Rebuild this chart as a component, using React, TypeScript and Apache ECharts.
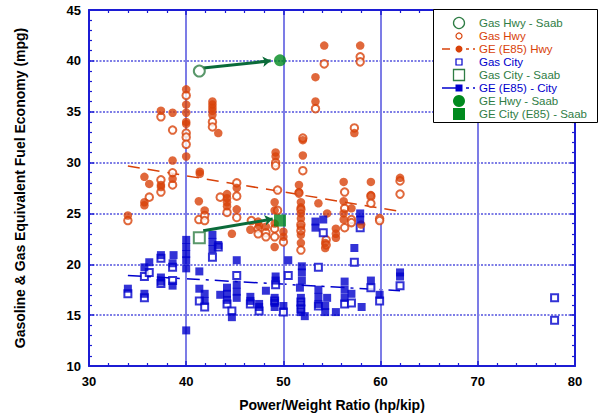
import React, { useEffect, useRef } from 'react';
import * as echarts from 'echarts';

// ---- data (x = power/weight hp/kip, y = mpg) ----
const GAS_HWY: number[][] = [
  [34.0, 24.3], [36.2, 26.6], [37.4, 34.5], [37.4, 28.3], [37.4, 27.1],
  [38.6, 33.2], [38.6, 29.0], [38.6, 27.8], [40.0, 36.6], [40.0, 32.9],
  [40.0, 32.5], [40.0, 31.8], [41.3, 24.4], [41.9, 24.8], [41.9, 24.3],
  [42.7, 34.0], [42.7, 33.5], [43.5, 26.6], [44.2, 25.1], [45.2, 28.0],
  [45.2, 26.7], [45.2, 24.6], [46.7, 24.3], [47.4, 23.5], [47.4, 23.0],
  [48.2, 23.1], [48.2, 22.7], [49.1, 23.5], [49.1, 22.7], [49.4, 27.3],
  [49.4, 25.3], [49.2, 30.0], [49.2, 29.7], [50.0, 22.2], [51.6, 27.0],
  [51.8, 25.4], [51.8, 23.9], [51.8, 23.3], [51.8, 21.4], [52.0, 32.4],
  [52.0, 29.2], [53.3, 35.3], [54.2, 39.7], [54.4, 22.4], [54.4, 21.9],
  [56.3, 27.1], [56.3, 25.5], [56.3, 23.6], [57.0, 24.4], [57.0, 24.1],
  [57.3, 33.4], [57.9, 40.4], [57.9, 39.9], [59.0, 26.7], [59.0, 26.0],
  [59.9, 24.5], [59.9, 24.3], [62.0, 28.2], [62.0, 26.9],
];

const GE_HWY: number[][] = [
  [34.0, 24.8], [35.7, 28.6], [35.7, 26.1], [35.7, 25.8], [36.2, 27.9],
  [37.4, 35.1], [37.4, 27.8], [37.4, 27.6], [38.6, 34.9], [38.6, 30.2],
  [38.6, 28.4], [40.0, 37.2], [40.0, 35.7], [40.0, 34.9], [40.0, 34.0],
  [40.0, 33.8], [40.0, 30.6], [41.4, 29.1], [41.4, 28.9], [41.3, 26.2],
  [41.9, 25.3], [42.7, 36.0], [42.7, 35.7], [42.7, 35.4], [42.7, 35.1],
  [42.7, 34.7], [43.3, 32.9], [44.2, 26.9], [44.2, 26.5], [44.2, 26.1],
  [44.2, 25.7], [44.7, 23.0], [45.2, 27.5], [45.2, 25.4], [46.6, 23.4],
  [47.4, 24.2], [47.5, 23.8], [48.2, 23.7], [49.1, 26.1], [49.1, 25.3],
  [49.1, 24.0], [49.1, 21.7], [49.2, 31.0], [49.2, 30.6], [50.0, 23.2],
  [50.0, 22.7], [51.6, 27.8], [51.6, 27.1], [51.8, 26.1], [51.8, 25.6],
  [51.8, 25.0], [51.8, 24.5], [51.8, 23.7], [51.8, 22.9], [51.8, 22.1],
  [52.0, 32.2], [52.0, 30.7], [53.3, 38.4], [53.3, 36.0], [53.6, 26.0],
  [54.2, 41.5], [54.3, 22.1], [54.3, 21.6], [54.5, 25.0], [55.4, 23.5],
  [55.4, 23.0], [55.4, 22.6], [56.2, 28.1], [56.2, 26.2], [56.2, 25.0],
  [56.2, 24.4], [57.0, 25.5], [57.3, 32.9], [57.9, 41.5], [58.0, 23.9],
  [59.0, 28.1], [59.0, 26.8], [62.0, 28.5],
];

const GAS_CITY: number[][] = [
  [34.0, 17.1], [35.7, 18.8], [35.7, 16.7], [36.2, 19.2], [37.4, 20.6],
  [37.4, 18.1], [38.6, 19.7], [38.6, 18.4], [41.35, 16.4], [41.9, 15.8],
  [42.7, 20.7], [43.3, 21.7], [44.2, 16.1], [44.7, 15.4], [45.2, 18.9],
  [46.6, 16.1], [47.5, 15.4], [49.2, 18.0], [49.1, 16.4], [50.0, 15.3],
  [50.5, 18.9], [51.8, 16.3], [51.8, 15.6], [53.6, 19.7], [53.6, 15.9],
  [54.1, 23.1], [56.3, 16.1], [57.0, 16.2], [57.3, 20.2], [57.9, 23.6],
  [59.0, 17.7], [59.9, 16.4], [62.0, 17.9], [77.9, 16.7], [77.9, 14.5],
];

const GE_CITY: number[][] = [
  [34.0, 17.6], [35.7, 19.7], [35.7, 17.1], [36.2, 20.2], [37.4, 20.9],
  [37.4, 18.7], [37.4, 18.3], [38.7, 20.9], [38.6, 20.1], [38.6, 17.9],
  [40.0, 22.4], [40.0, 21.7], [40.0, 21.0], [40.0, 20.4], [40.0, 19.6],
  [40.0, 13.5], [41.35, 19.3], [41.35, 17.6], [41.9, 17.1], [41.9, 16.4],
  [42.7, 22.9], [42.7, 22.2], [42.7, 21.5], [43.3, 21.9], [43.5, 17.0],
  [44.2, 17.7], [44.2, 17.1], [44.2, 16.5], [44.7, 14.8], [45.2, 20.4],
  [45.2, 18.0], [45.2, 17.3], [45.2, 16.7], [46.6, 16.8], [46.6, 16.4],
  [47.5, 16.1], [47.5, 15.8], [48.2, 17.4], [49.2, 18.8], [49.2, 18.4],
  [49.1, 16.7], [49.1, 16.2], [49.1, 15.8], [50.0, 15.9], [50.5, 20.4],
  [51.9, 19.8], [51.9, 19.2], [51.9, 18.4], [51.7, 17.7], [51.8, 16.7],
  [51.8, 16.0], [51.8, 15.3], [52.2, 14.9], [53.3, 24.2], [53.3, 23.6],
  [53.6, 17.5], [53.6, 16.8], [53.6, 16.1], [54.1, 24.4], [54.3, 15.9],
  [54.3, 15.3], [54.5, 16.7], [55.4, 15.3], [56.3, 18.3], [56.3, 17.5],
  [56.3, 16.7], [57.0, 17.1], [57.3, 21.6], [57.9, 25.0], [57.9, 24.4],
  [58.05, 15.8], [59.0, 18.4], [59.9, 17.0], [62.0, 19.2], [62.0, 18.8],
];

const GAS_HWY_SAAB: number[][] = [[41.35, 39.0]];
const GE_HWY_SAAB: number[][] = [[49.65, 40.05]];
const GAS_CITY_SAAB: number[][] = [[41.35, 22.6]];
const GE_CITY_SAAB: number[][] = [[49.65, 24.3]];

const HWY_FIT: number[][] = [[34, 29.66], [62, 25.2]];
const CITY_FIT: number[][] = [[34, 18.9], [62, 17.4]];

const ARROWS: number[][][] = [
  [[41.75, 39.3], [48.7, 40.0]],
  [[41.75, 23.3], [48.9, 24.45]],
];

const X_RANGE = [30, 80, 10];
const Y_RANGE = [10, 45, 5];

const X_NAME = 'Power/Weight Ratio (hp/kip)';
const Y_NAME = 'Gasoline & Gas Equivalent Fuel Economy (mpg)';

const LEGEND_ITEMS = [
  'Gas Hwy - Saab',
  'Gas Hwy',
  'GE (E85) Hwy',
  'Gas City',
  'Gas City - Saab',
  'GE (E85) - City',
  'GE Hwy - Saab',
  'GE City (E85) - Saab',
];

// ---- styles ----
const ORANGE = '#d8420a';
const BLUE = '#0000cc';
const GREEN = '#008a1e';
const DKGREEN = '#0b6b3a';
const OPEN_GREEN = '#2f7d45';
const AXIS = '#1c1cd4';
const GRID = '#7c7ce6';
const FONT = '"Liberation Sans", Arial, Helvetica, sans-serif';

function axisCommon(min: number, max: number, interval: number) {
  return {
    type: 'value',
    min,
    max,
    interval,
    axisLine: { show: true, onZero: false, lineStyle: { color: AXIS, width: 2 } },
    axisTick: { show: true, inside: true, length: 5, lineStyle: { color: AXIS, width: 1.5 } },
    minorTick: { show: true, splitNumber: 5, length: 3, lineStyle: { color: AXIS, width: 1.2 } },
  };
}

export default function App() {
  const ref = useRef<HTMLDivElement>(null);

  useEffect(() => {
    const chart = echarts.init(ref.current!, null, { renderer: 'svg' });

    const legendRows = [23, 36, 49, 62, 75, 88, 101, 114];
    const legendColors = [OPEN_GREEN, ORANGE, ORANGE, BLUE, OPEN_GREEN, BLUE, OPEN_GREEN, OPEN_GREEN];
    const sx = 459;
    const graphic: any[] = [
      {
        type: 'rect',
        z: 100,
        shape: { x: 433.5, y: 9.5, width: 164, height: 113 },
        style: { fill: '#fff', stroke: '#000', lineWidth: 1 },
      },
    ];
    LEGEND_ITEMS.forEach((t, i) => {
      graphic.push({
        type: 'text',
        z: 101,
        x: 479,
        y: legendRows[i],
        style: {
          text: t,
          fill: legendColors[i],
          fontSize: 11.5,
          fontFamily: FONT,
          verticalAlign: 'middle',
          align: 'left',
        },
      });
    });
    const r = legendRows;
    graphic.push(
      { type: 'circle', z: 101, shape: { cx: sx, cy: r[0], r: 5.5 }, style: { fill: '#fff', stroke: OPEN_GREEN, lineWidth: 1.3 } },
      { type: 'circle', z: 101, shape: { cx: sx, cy: r[1], r: 3 }, style: { fill: '#fff', stroke: ORANGE, lineWidth: 1.2 } },
      { type: 'line', z: 101, shape: { x1: 442, y1: r[2], x2: 450, y2: r[2] }, style: { stroke: ORANGE, lineWidth: 1.5 } },
      { type: 'line', z: 101, shape: { x1: 466, y1: r[2], x2: 469, y2: r[2] }, style: { stroke: ORANGE, lineWidth: 1.5 } },
      { type: 'line', z: 101, shape: { x1: 473, y1: r[2], x2: 475, y2: r[2] }, style: { stroke: ORANGE, lineWidth: 1.5 } },
      { type: 'circle', z: 102, shape: { cx: sx, cy: r[2], r: 3.5 }, style: { fill: ORANGE } },
      { type: 'rect', z: 101, shape: { x: sx - 3, y: r[3] - 3, width: 6, height: 6 }, style: { fill: '#fff', stroke: BLUE, lineWidth: 1.2 } },
      { type: 'rect', z: 101, shape: { x: sx - 5.5, y: r[4] - 5.5, width: 11, height: 11 }, style: { fill: '#fff', stroke: OPEN_GREEN, lineWidth: 1.3 } },
      { type: 'line', z: 101, shape: { x1: 442, y1: r[5], x2: 457, y2: r[5] }, style: { stroke: BLUE, lineWidth: 1.5 } },
      { type: 'line', z: 101, shape: { x1: 466, y1: r[5], x2: 469, y2: r[5] }, style: { stroke: BLUE, lineWidth: 1.5 } },
      { type: 'line', z: 101, shape: { x1: 473, y1: r[5], x2: 475, y2: r[5] }, style: { stroke: BLUE, lineWidth: 1.5 } },
      { type: 'rect', z: 102, shape: { x: sx - 3.5, y: r[5] - 3.5, width: 7, height: 7 }, style: { fill: BLUE } },
      { type: 'circle', z: 101, shape: { cx: sx, cy: r[6], r: 6 }, style: { fill: GREEN } },
      { type: 'rect', z: 101, shape: { x: sx - 6, y: r[7] - 6, width: 12, height: 12 }, style: { fill: GREEN } },
    );

    const option: any = {
      animation: false,
      backgroundColor: '#fff',
      grid: { left: 89, right: 29, top: 10, bottom: 47, containLabel: false },
      xAxis: [
        {
          ...axisCommon(X_RANGE[0], X_RANGE[1], X_RANGE[2]),
          position: 'bottom',
          axisLabel: { color: '#000', fontWeight: 'bold', fontSize: 13, fontFamily: FONT, margin: 9 },
          splitLine: { show: true, lineStyle: { color: GRID, width: 2, type: 'solid' } },
          name: X_NAME,
          nameLocation: 'middle',
          nameGap: 32,
          nameTextStyle: { color: '#000', fontWeight: 'bold', fontSize: 14, fontFamily: FONT },
          z: 3,
        },
        {
          ...axisCommon(X_RANGE[0], X_RANGE[1], X_RANGE[2]),
          position: 'top',
          axisLabel: { show: false },
          splitLine: { show: false },
          z: 3,
        },
      ],
      yAxis: [
        {
          ...axisCommon(Y_RANGE[0], Y_RANGE[1], Y_RANGE[2]),
          position: 'left',
          axisLabel: { color: '#000', fontWeight: 'bold', fontSize: 13, fontFamily: FONT, margin: 8 },
          splitLine: { show: true, lineStyle: { color: GRID, width: 2, type: [2, 1.5] } },
          name: Y_NAME,
          nameLocation: 'middle',
          nameGap: 62,
          nameTextStyle: { color: '#000', fontWeight: 'bold', fontSize: 14, fontFamily: FONT },
          z: 3,
        },
        {
          ...axisCommon(Y_RANGE[0], Y_RANGE[1], Y_RANGE[2]),
          position: 'right',
          axisLabel: { show: false },
          splitLine: { show: false },
          z: 3,
        },
      ],
      graphic,
      series: [
        {
          name: 'hwy fit',
          type: 'line',
          data: HWY_FIT,
          showSymbol: false,
          silent: true,
          z: 2,
          lineStyle: { color: ORANGE, width: 1.5, type: [12, 8] },
        },
        {
          name: 'city fit',
          type: 'line',
          data: CITY_FIT,
          showSymbol: false,
          silent: true,
          z: 2,
          lineStyle: { color: BLUE, width: 1.5, type: [14, 6, 3, 6] },
        },
        {
          name: 'Gas Hwy',
          type: 'scatter',
          data: GAS_HWY,
          symbol: 'emptyCircle',
          symbolSize: 7.5,
          z: 3,
          itemStyle: { color: ORANGE, borderColor: ORANGE, borderWidth: 1.4 },
        },
        {
          name: 'GE (E85) Hwy',
          type: 'scatter',
          data: GE_HWY,
          symbol: 'circle',
          symbolSize: 8.5,
          z: 4,
          itemStyle: { color: ORANGE },
        },
        {
          name: 'Gas City',
          type: 'scatter',
          data: GAS_CITY,
          symbol: 'emptyRect',
          symbolSize: 7,
          z: 3,
          itemStyle: { color: BLUE, borderColor: BLUE, borderWidth: 1.4 },
        },
        {
          name: 'GE (E85) - City',
          type: 'scatter',
          data: GE_CITY,
          symbol: 'rect',
          symbolSize: 8,
          z: 4,
          itemStyle: { color: BLUE },
        },
        {
          name: 'arrows',
          type: 'lines',
          coordinateSystem: 'cartesian2d',
          z: 5,
          silent: true,
          symbol: ['none', 'arrow'],
          symbolSize: 8,
          lineStyle: { color: DKGREEN, width: 3, opacity: 1 },
          data: ARROWS.map((c) => ({ coords: c })),
        },
        {
          name: 'Gas Hwy - Saab',
          type: 'scatter',
          data: GAS_HWY_SAAB,
          symbol: 'emptyCircle',
          symbolSize: 11,
          z: 6,
          itemStyle: { color: OPEN_GREEN, borderColor: OPEN_GREEN, borderWidth: 1.3 },
        },
        {
          name: 'GE Hwy - Saab',
          type: 'scatter',
          data: GE_HWY_SAAB,
          symbol: 'circle',
          symbolSize: 12,
          z: 6,
          itemStyle: { color: GREEN },
        },
        {
          name: 'Gas City - Saab',
          type: 'scatter',
          data: GAS_CITY_SAAB,
          symbol: 'emptyRect',
          symbolSize: 11,
          z: 6,
          itemStyle: { color: OPEN_GREEN, borderColor: OPEN_GREEN, borderWidth: 1.3 },
        },
        {
          name: 'GE City (E85) - Saab',
          type: 'scatter',
          data: GE_CITY_SAAB,
          symbol: 'rect',
          symbolSize: 12,
          z: 6,
          itemStyle: { color: GREEN },
        },
      ],
    };

    chart.setOption(option);
    return () => chart.dispose();
  }, []);

  return (
    <div
      ref={ref}
      style={{ position: 'absolute', left: 0, top: 0, width: 604, height: 417 }}
    />
  );
}
